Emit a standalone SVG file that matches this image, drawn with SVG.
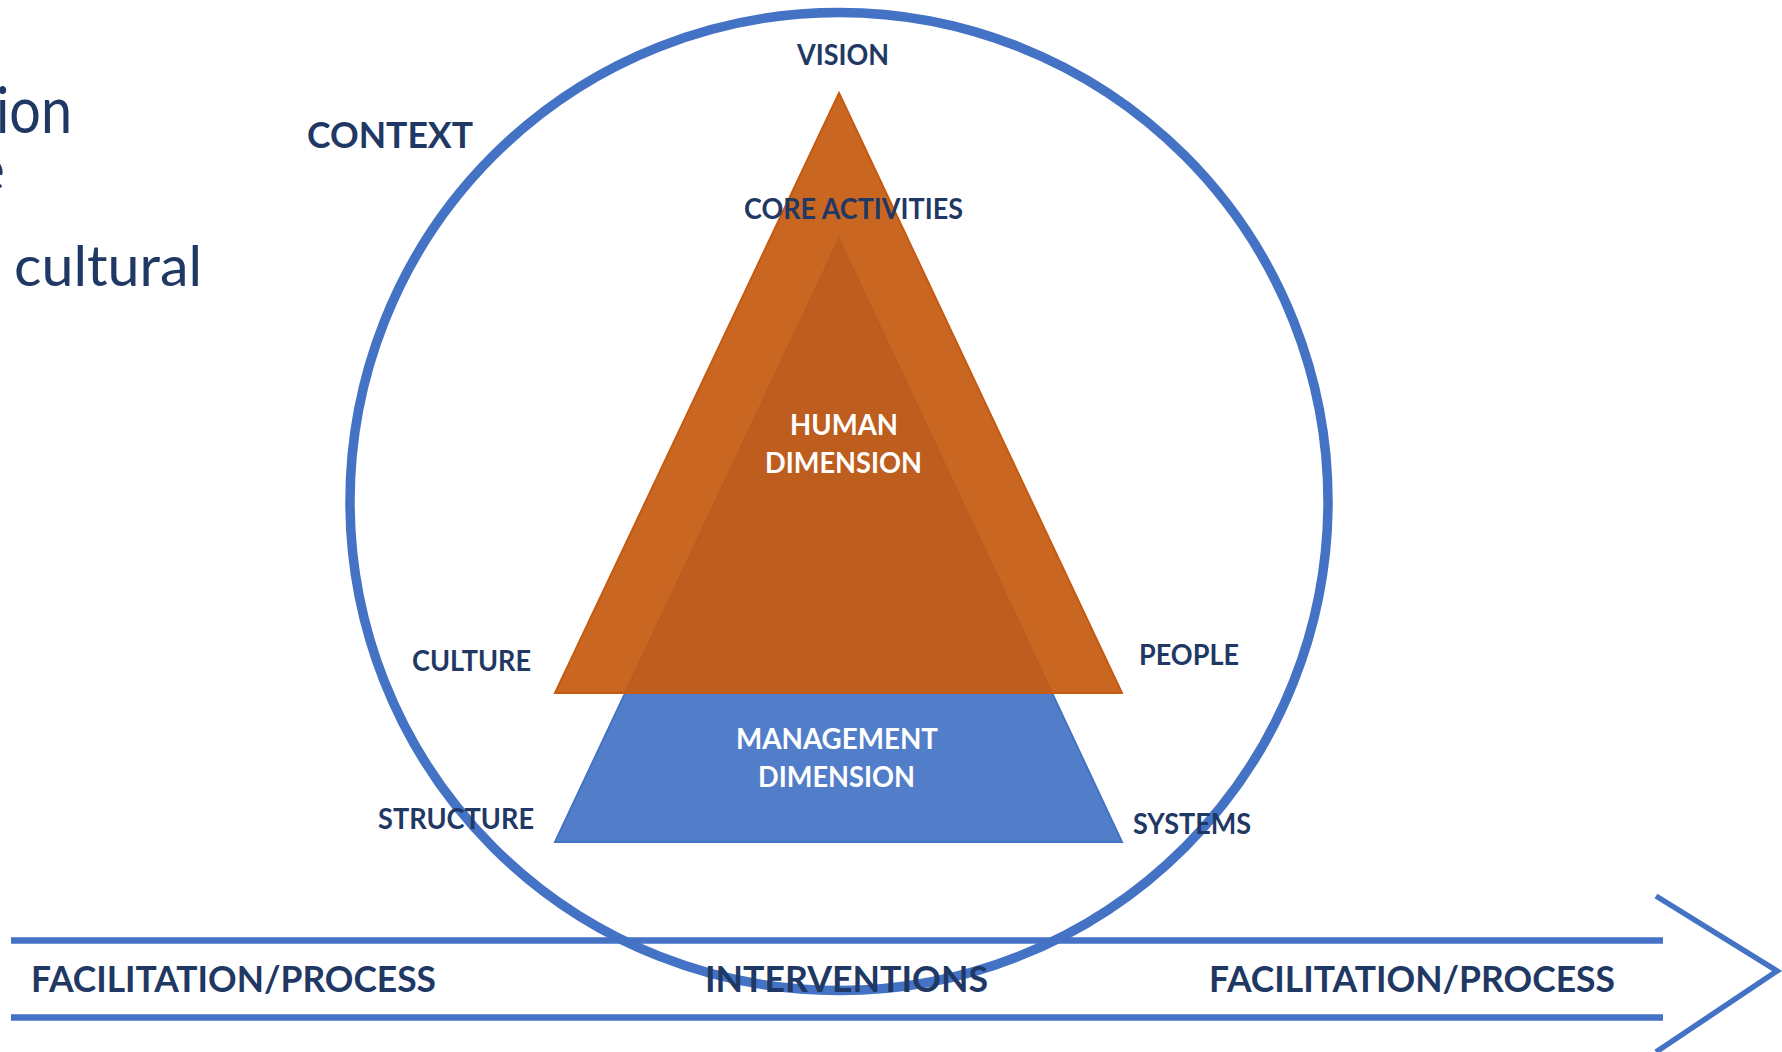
<svg xmlns="http://www.w3.org/2000/svg" width="1782" height="1052" viewBox="0 0 1782 1052">
  <style>
    .lbl { font-family: Lato, "Open Sans", "Liberation Sans", sans-serif; font-weight: 700; fill: #1F3864; }
    .inner { font-family: Lato, "Open Sans", "Liberation Sans", sans-serif; font-weight: 700; fill: #FFFFFF; }
    .slide { font-family: Lato, "Open Sans", "Liberation Sans", sans-serif; font-weight: 400; fill: #1F3864; }
    .band { stroke: #4472C4; stroke-width: 6.5; fill: none; }
  </style>
  <rect width="1782" height="1052" fill="#FFFFFF"/>

  <!-- fragments of slide text at the left edge -->
  <g id="slide-text">
    <text class="slide" x="-4" y="133" font-size="64" textLength="76" lengthAdjust="spacingAndGlyphs">ion</text>
    <text class="slide" x="5" y="191" font-size="62" text-anchor="end">e</text>
    <text class="slide" x="14" y="286" font-size="56" textLength="188" lengthAdjust="spacingAndGlyphs">cultural</text>
  </g>

  <!-- management dimension (blue) under the human dimension (orange) -->
  <g id="management-dimension">
    <polygon points="839,239 1122,842 555,842" fill="#527DC8" stroke="#4472C4" stroke-width="2" stroke-linejoin="miter"/>
  </g>
  <g id="human-dimension">
    <polygon points="839,93 1122,693 555,693" fill="#C55A11" fill-opacity="0.93" stroke="#C55A11" stroke-width="2"/>
  </g>

  <!-- context circle -->
  <g id="context">
    <circle cx="839" cy="501.5" r="489" fill="none" stroke="#4472C4" stroke-width="9.5"/>
  </g>

  <!-- process band with chevron head -->
  <g id="connectors">
    <line class="band" x1="11" y1="940.5" x2="1663" y2="940.5"/>
    <line class="band" x1="11" y1="1017.5" x2="1663" y2="1017.5"/>
    <polyline points="1656,896 1777,971 1656,1052" fill="none" stroke="#4472C4" stroke-width="5.5" stroke-linejoin="miter"/>
  </g>

  <g id="labels">
    <text class="lbl" x="307" y="148" font-size="36" textLength="166" lengthAdjust="spacingAndGlyphs">CONTEXT</text>
    <text class="lbl" x="797" y="65" font-size="28" textLength="92" lengthAdjust="spacingAndGlyphs">VISION</text>
    <text class="lbl" x="744" y="219" font-size="28" textLength="219" lengthAdjust="spacingAndGlyphs">CORE ACTIVITIES</text>
    <text class="inner" x="790" y="435" font-size="28" textLength="108" lengthAdjust="spacingAndGlyphs">HUMAN</text>
    <text class="inner" x="765" y="473" font-size="28" textLength="157" lengthAdjust="spacingAndGlyphs">DIMENSION</text>
    <text class="lbl" x="412" y="671" font-size="28" textLength="119" lengthAdjust="spacingAndGlyphs">CULTURE</text>
    <text class="lbl" x="1139" y="665" font-size="28" textLength="100" lengthAdjust="spacingAndGlyphs">PEOPLE</text>
    <text class="inner" x="736" y="749" font-size="28" textLength="202" lengthAdjust="spacingAndGlyphs">MANAGEMENT</text>
    <text class="inner" x="758" y="787" font-size="28" textLength="157" lengthAdjust="spacingAndGlyphs">DIMENSION</text>
    <text class="lbl" x="378" y="829" font-size="28" textLength="156" lengthAdjust="spacingAndGlyphs">STRUCTURE</text>
    <text class="lbl" x="1133" y="834" font-size="28" textLength="118" lengthAdjust="spacingAndGlyphs">SYSTEMS</text>
    <text class="lbl" x="31" y="992" font-size="36" textLength="405" lengthAdjust="spacingAndGlyphs">FACILITATION/PROCESS</text>
    <text class="lbl" x="705" y="992" font-size="36" textLength="283" lengthAdjust="spacingAndGlyphs">INTERVENTIONS</text>
    <text class="lbl" x="1209" y="992" font-size="36" textLength="406" lengthAdjust="spacingAndGlyphs">FACILITATION/PROCESS</text>
  </g>
</svg>
